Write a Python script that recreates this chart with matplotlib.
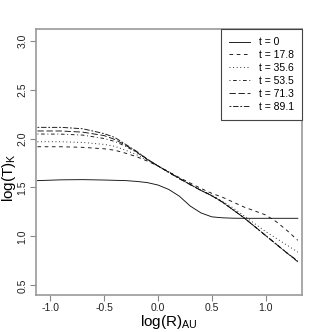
import numpy as np
import matplotlib
matplotlib.use("Agg")
import matplotlib.pyplot as plt

plt.rcParams['font.family'] = ['Liberation Sans', 'DejaVu Sans']
plt.rcParams['mathtext.default'] = 'regular'

# log(R) sample points (AU)
log_r = [-1.12, -0.9, -0.7, -0.5, -0.4, -0.3, -0.2, -0.1, 0.0, 0.1, 0.2,
         0.3, 0.4, 0.5, 0.6, 0.7, 0.8, 0.9, 1.0, 1.1, 1.2, 1.3]

# log(T) for each time
temp_t0 = [1.570, 1.578, 1.580, 1.576, 1.573, 1.570, 1.562, 1.550, 1.525, 1.480, 1.410,
           1.310, 1.240, 1.200, 1.190, 1.186, 1.185, 1.185, 1.185, 1.185, 1.185, 1.185]
temp_t178 = [1.916, 1.916, 1.910, 1.895, 1.880, 1.850, 1.815, 1.770, 1.720, 1.660, 1.600,
             1.545, 1.490, 1.440, 1.400, 1.350, 1.300, 1.260, 1.220, 1.150, 1.060, 0.960]
temp_t356 = [1.967, 1.967, 1.960, 1.940, 1.920, 1.880, 1.835, 1.780, 1.720, 1.660, 1.595,
             1.530, 1.470, 1.420, 1.360, 1.290, 1.210, 1.130, 1.050, 0.980, 0.910, 0.840]
temp_t535 = [2.046, 2.045, 2.035, 2.000, 1.970, 1.920, 1.860, 1.785, 1.720, 1.655, 1.590,
             1.530, 1.470, 1.420, 1.350, 1.270, 1.190, 1.100, 1.010, 0.920, 0.830, 0.745]
temp_t713 = [2.077, 2.077, 2.065, 2.030, 1.990, 1.930, 1.865, 1.790, 1.720, 1.655, 1.590,
             1.530, 1.470, 1.415, 1.350, 1.270, 1.190, 1.100, 1.010, 0.920, 0.830, 0.750]
temp_t891 = [2.114, 2.114, 2.100, 2.050, 2.010, 1.940, 1.870, 1.790, 1.720, 1.655, 1.590,
             1.530, 1.470, 1.415, 1.350, 1.270, 1.190, 1.100, 1.010, 0.920, 0.830, 0.740]

labels = ['t = 0', 't = 17.8', 't = 35.6', 't = 53.5', 't = 71.3', 't = 89.1']
series = [temp_t0, temp_t178, temp_t356, temp_t535, temp_t713, temp_t891]
# R line types 1..6
dash_styles = [None, (4, 4), (1, 3), (1, 3, 4, 3), (7, 3), (2, 2, 6, 2)]

fig = plt.figure(figsize=(3.32, 3.32), dpi=100)
ax = fig.add_axes([0.108, 0.111, 0.802, 0.802])

for ys, lab, ds in zip(series, labels, dash_styles):
    line, = ax.plot(log_r, ys, color='#111111', lw=0.65, label=lab)
    if ds is not None:
        line.set_dashes(ds)

ax.set_xlim(-1.135, 1.34)
ax.set_ylim(0.40, 3.12)
ax.set_xticks([-1.0, -0.5, 0.0, 0.5, 1.0])
ax.set_yticks([0.5, 1.0, 1.5, 2.0, 2.5, 3.0])
ax.set_xticklabels(['-1.0', '-0.5', '0.0', '0.5', '1.0'])
ax.set_yticklabels(['0.5', '1.0', '1.5', '2.0', '2.5', '3.0'], rotation=90, va='center')
ax.tick_params(direction='out', length=4, width=0.8, color='#888888',
               labelsize=7.5, pad=2, labelcolor='#222222')

for s in ax.spines.values():
    s.set_color('#999999')
    s.set_linewidth(1.2)

ax.set_xlabel('$log(R)_{AU}$', fontsize=11, labelpad=-0.5)
ax.set_ylabel('$log(T)_{K}$', fontsize=11)
ax.yaxis.set_label_coords(-0.066, 0.44)

leg = ax.legend(loc='upper right', borderaxespad=0, fancybox=False, fontsize=7.5,
                handlelength=2.0, handletextpad=0.8, labelspacing=0.28,
                borderpad=0.8, framealpha=1)
leg.get_frame().set_edgecolor('#444444')
leg.get_frame().set_linewidth(0.8)

fig.savefig('out.png', dpi=100)
